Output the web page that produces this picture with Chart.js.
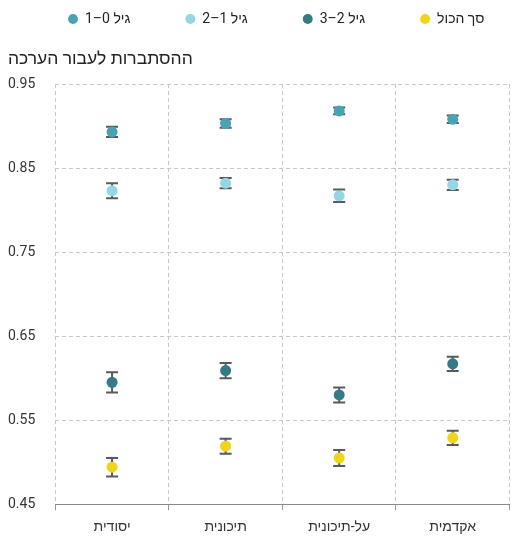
<!DOCTYPE html>
<html>
<head>
<meta charset="utf-8">
<script src="https://cdn.jsdelivr.net/npm/chart.js"></script>
<title>הסתברות לעבור הערכה</title>
<style>
  body { margin: 0; background: #ffffff; }
</style>
</head>
<body>
<canvas id="chart" dir="rtl" width="515" height="537"></canvas>
<script>
// קטגוריות (השכלה)
var categories = ['יסודית', 'תיכונית', 'על-תיכונית', 'אקדמית'];
var seriesNames = ['גיל 0–1', 'גיל 1–2', 'גיל 2–3', 'סך הכול'];
var seriesColors = ['#4aa3b3', '#93d6e4', '#357a84', '#f0d419'];

// values
var age01 = [0.893, 0.903, 0.918, 0.908];
var age12 = [0.823, 0.832, 0.817, 0.830];
var age23 = [0.595, 0.609, 0.580, 0.617];
var total = [0.494, 0.519, 0.505, 0.529];

// half-width of the error bars
var err01 = [0.006, 0.005, 0.004, 0.0045];
var err12 = [0.009, 0.006, 0.0075, 0.006];
var err23 = [0.012, 0.009, 0.009, 0.0085];
var errTotal = [0.011, 0.009, 0.0095, 0.0085];

var yTicks = [0.45, 0.55, 0.65, 0.75, 0.85, 0.95];

var values = [age01, age12, age23, total];
var errors = [err01, err12, err23, errTotal];

var FONT = "Roboto, 'Liberation Sans', 'DejaVu Sans', sans-serif";

// error bars drawn under the dots
var errorBars = {
  id: 'errorBars',
  beforeDatasetsDraw: function(chart) {
    var ctx = chart.ctx;
    var y = chart.scales.y;
    ctx.save();
    ctx.strokeStyle = '#5a5a5a';
    ctx.lineWidth = 2;
    chart.data.datasets.forEach(function(ds, d) {
      var meta = chart.getDatasetMeta(d);
      meta.data.forEach(function(pt, i) {
        var e = errors[d][i];
        var v = ds.data[i];
        var top = y.getPixelForValue(v + e);
        var bot = y.getPixelForValue(v - e);
        ctx.beginPath();
        ctx.moveTo(pt.x, top); ctx.lineTo(pt.x, bot);
        ctx.moveTo(pt.x - 6, top); ctx.lineTo(pt.x + 6, top);
        ctx.moveTo(pt.x - 6, bot); ctx.lineTo(pt.x + 6, bot);
        ctx.stroke();
      });
    });
    ctx.restore();
  }
};

// wider gaps between legend items than the legend fit allows on one row
var legendGap = {
  id: 'legendGap',
  beforeDraw: function(chart) {
    var lg = chart.legend;
    this._pad = lg.options.labels.padding;
    var gap = 55;
    lg.options.labels.padding = gap;
    lg.left = 68 - gap;
    lg.right = 640;
    lg.top = 12 - gap;
  },
  afterDraw: function(chart) {
    chart.legend.options.labels.padding = this._pad;
  }
};

var datasets = [];
for (var k = 0; k < seriesNames.length; k++) {
  datasets.push({
    label: seriesNames[k],
    data: values[k],
    showLine: false,
    backgroundColor: seriesColors[k],
    borderColor: seriesColors[k],
    pointRadius: 5.5,
    pointHoverRadius: 5.5,
    pointBorderWidth: 0,
    pointStyle: 'circle'
  });
}

new Chart(document.getElementById('chart'), {
  type: 'line',
  data: { labels: categories, datasets: datasets },
  plugins: [errorBars, legendGap],
  options: {
    responsive: false,
    animation: false,
    layout: { padding: { left: 8, right: 0, top: 0, bottom: -8 } },
    plugins: {
      tooltip: { enabled: false },
      legend: {
        position: 'top',
        align: 'start',
        textDirection: 'rtl',
        labels: {
          usePointStyle: true,
          pointStyle: 'circle',
          boxWidth: 10,
          boxHeight: 7,
          padding: 16,
          color: '#222',
          font: { family: FONT, size: 14 }
        }
      },
      title: {
        display: true,
        text: 'ההסתברות לעבור הערכה',
        align: 'start',
        weight: 500,
        color: '#222',
        font: { family: FONT, size: 17.5, weight: 'normal' },
        padding: { top: 9, bottom: 14 }
      }
    },
    scales: {
      x: {
        type: 'category',
        offset: true,
        grid: {
          offset: true,
          color: function(c) { return c.index === 4 ? 'rgba(0,0,0,0)' : '#c8c8c8'; },
          tickColor: '#9a9a9a',
          tickLength: 6,
          tickBorderDash: []
        },
        border: { display: true, color: '#8a8a8a', width: 1, dash: [4, 3] },
        ticks: { color: '#333', padding: 9, font: { family: FONT, size: 14 } }
      },
      y: {
        min: 0.45,
        max: 0.95,
        afterBuildTicks: function(axis) {
          axis.ticks = yTicks.map(function(v) { return { value: v }; });
        },
        grid: { color: '#c8c8c8', drawTicks: false },
        border: { display: false, dash: [4, 3] },
        ticks: {
          color: '#333',
          padding: 10,
          crossAlign: 'far',
          font: { family: FONT, size: 14 },
          callback: function(v) { return v.toFixed(2); }
        }
      }
    }
  }
});
</script>
</body>
</html>
